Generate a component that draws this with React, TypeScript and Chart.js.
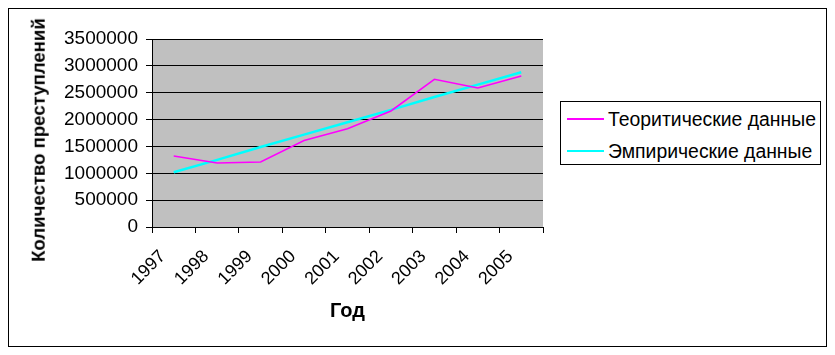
import React, { useEffect, useRef } from "react";
import { Chart, registerables } from "chart.js";

Chart.register(...registerables);

const years = ["1997", "1998", "1999", "2000", "2001", "2002", "2003", "2004", "2005"];
const theoretical = [1320000, 1190000, 1210000, 1610000, 1830000, 2160000, 2750000, 2590000, 2810000];
const empirical = [1020000, 1250000, 1490000, 1720000, 1950000, 2180000, 2420000, 2650000, 2880000];
const seriesNames = ["Теоритические данные", "Эмпирические данные"];
const seriesColors = ["#FF00FF", "#00FFFF"];
const yTitle = "Количество преступлений";
const xTitle = "Год";

const FONT = "'Liberation Sans', Arial, sans-serif";

const plotBg = {
  id: "plotBg",
  beforeDraw(chart: any) {
    const { ctx, chartArea } = chart;
    ctx.save();
    ctx.fillStyle = "#C0C0C0";
    ctx.fillRect(chartArea.left, chartArea.top, chartArea.right - chartArea.left, chartArea.bottom - chartArea.top);
    ctx.restore();
  },
};

export default function App() {
  const ref = useRef<HTMLCanvasElement>(null);
  useEffect(() => {
    if (!ref.current) return;
    const chart = new Chart(ref.current, {
      type: "line",
      data: {
        labels: years,
        datasets: [
          { label: seriesNames[0], data: theoretical, borderColor: seriesColors[0], backgroundColor: seriesColors[0], borderWidth: 1.5, pointRadius: 0, tension: 0 },
          { label: seriesNames[1], data: empirical, borderColor: seriesColors[1], backgroundColor: seriesColors[1], borderWidth: 2.5, pointRadius: 0, tension: 0 },
        ],
      },
      options: {
        animation: false,
        responsive: true,
        maintainAspectRatio: false,
        devicePixelRatio: 1,
        layout: { padding: { top: 30, right: 283, left: 0, bottom: 0 } },
        plugins: { legend: { display: false }, tooltip: { enabled: false } },
        scales: {
          x: {
            type: "category",
            offset: true,
            grid: { display: true, drawOnChartArea: false, offset: true, drawTicks: true, tickLength: 6, color: "#000" },
            border: { display: true, color: "#000", width: 1 },
            ticks: { autoSkip: false, minRotation: 45, maxRotation: 45, color: "#000", font: { family: FONT, size: 18 }, padding: 13, labelOffset: -11 },
            title: { display: true, text: xTitle, color: "#000", font: { family: FONT, size: 20, weight: "bold" }, padding: { top: 4, bottom: 23 } },
            afterFit: (s: any) => { s.height = 119; },
          },
          y: {
            min: 0,
            max: 3500000,
            ticks: { stepSize: 500000, color: "#000", font: { family: FONT, size: 19 }, padding: 8, callback: (v: any) => String(v) },
            grid: { color: "#000", lineWidth: 1, tickLength: 6, drawTicks: true },
            border: { display: true, color: "#000", width: 1 },
            title: { display: false },
            afterFit: (s: any) => { s.width = 143; },
          },
        },
      },
      plugins: [plotBg],
    });
    return () => chart.destroy();
  }, []);

  const legendRow = (i: number, top: number) => (
    <div key={i} style={{ position: "absolute", left: 6, top: top - 12, height: 24, display: "flex", alignItems: "center", whiteSpace: "nowrap" }}>
      <div style={{ width: 37, height: 0, borderTop: `2px solid ${seriesColors[i]}` }} />
      <span style={{ marginLeft: 4, fontFamily: FONT, fontSize: 19.4, color: "#000" }}>{seriesNames[i]}</span>
    </div>
  );

  return (
    <div style={{ position: "relative", width: 819, height: 339, border: "1px solid #000", boxSizing: "border-box", background: "#fff" }}>
      <div style={{ position: "absolute", left: 0, top: 0, width: 817, height: 337 }}>
        <canvas ref={ref} />
      </div>
      <div style={{ position: "absolute", left: 29.5, top: 131, width: 0, height: 0 }}>
        <div
          style={{
            position: "absolute",
            left: 0,
            top: 0,
            transform: "translate(-50%, -50%) rotate(-90deg)",
            whiteSpace: "nowrap",
            fontFamily: FONT,
            fontSize: 18.6,
            fontWeight: "bold",
            color: "#000",
            lineHeight: 1,
          }}
        >
          {yTitle}
        </div>
      </div>
      <div style={{ position: "absolute", left: 551, top: 92, width: 261, height: 64, border: "1px solid #000", boxSizing: "border-box", background: "#fff" }}>
        {legendRow(0, 17)}
        {legendRow(1, 49)}
      </div>
    </div>
  );
}
